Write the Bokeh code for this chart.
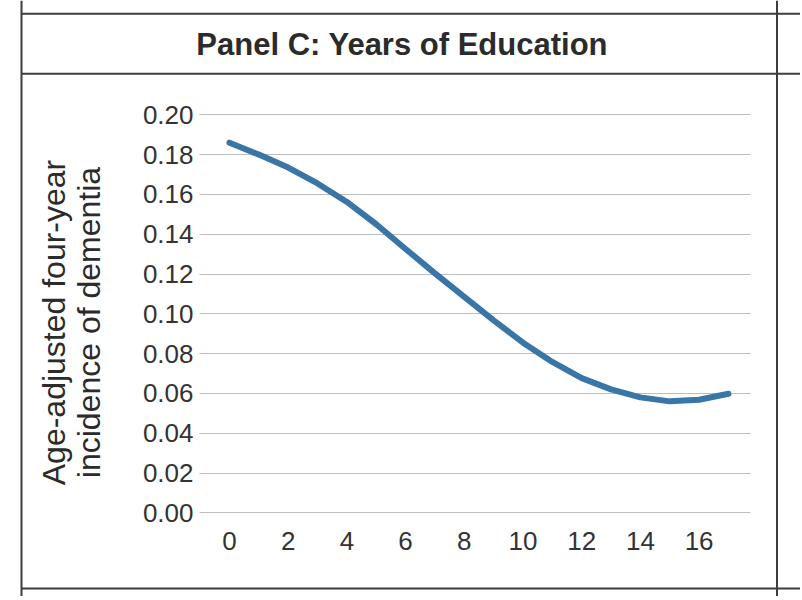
import math
from bokeh.plotting import figure
from bokeh.models import (Range1d, LinearAxis, Grid, FixedTicker,
                          PrintfTickFormatter, Label, Span)
from bokeh.embed import file_html
from bokeh.resources import INLINE

# ---------------- data ----------------
years = [0, 1, 2, 3, 4, 5, 6, 7, 8, 9, 10, 11, 12, 13, 14, 15, 16, 17]
incidence = [0.1860, 0.1800, 0.1735, 0.1655, 0.1562, 0.1450, 0.1326, 0.1203,
             0.1085, 0.0967, 0.0855, 0.0758, 0.0677, 0.0620, 0.0580, 0.0560,
             0.0568, 0.0598]
x_ticks = [0, 2, 4, 6, 8, 10, 12, 14, 16]
y_ticks = [0.00, 0.02, 0.04, 0.06, 0.08, 0.10, 0.12, 0.14, 0.16, 0.18, 0.20]
title_text = "Panel C: Years of Education"
y_title_lines = ["Age-adjusted four-year", "incidence of dementia"]

# ---------------- layout (page pixels -> data) ----------------
W, H = 800, 596
OFF = 0
PX0, PXU = 229.0, 29.35      # page x of year 0, pixels per year
PY0, PYU = 512.3, 1990.0     # page y of 0.00, pixels per unit


def dx(px):
    return (px - PX0) / PXU


def dy(py):
    return (PY0 - py) / PYU


TEXT = "#333333"
FONT = "Liberation Sans"

p = figure(width=W, height=H, output_backend="svg", toolbar_location=None,
           x_range=Range1d(dx(OFF), dx(OFF + W)),
           y_range=Range1d(dy(OFF + H), dy(OFF)),
           x_axis_location=None, y_axis_location=None, min_border=0)
p.outline_line_color = None
p.background_fill_color = "white"
p.border_fill_color = "white"
for g in p.grid:
    g.visible = False

# y axis (labels only)
yaxis = LinearAxis(fixed_location=dx(199), ticker=FixedTicker(ticks=y_ticks),
                   formatter=PrintfTickFormatter(format="%.2f"))
yaxis.axis_line_color = None
yaxis.major_tick_line_color = None
yaxis.minor_tick_line_color = None
yaxis.major_tick_out = 0
yaxis.major_tick_in = 0
yaxis.major_label_standoff = 6
yaxis.major_label_text_font = FONT
yaxis.major_label_text_font_size = "26px"
yaxis.major_label_text_color = TEXT
p.add_layout(yaxis, "left")

# x axis (labels only)
xaxis = LinearAxis(fixed_location=0, ticker=FixedTicker(ticks=x_ticks))
xaxis.axis_line_color = None
xaxis.major_tick_line_color = None
xaxis.minor_tick_line_color = None
xaxis.major_tick_out = 0
xaxis.major_tick_in = 0
xaxis.major_label_standoff = 19
xaxis.major_label_text_font = FONT
xaxis.major_label_text_font_size = "26px"
xaxis.major_label_text_color = TEXT
p.add_layout(xaxis, "below")

# horizontal gridlines
try:
    grid = Grid(dimension=1, ticker=yaxis.ticker, cross_bounds=(dx(199), dx(750)),
                grid_line_color="#bdbdbd", grid_line_width=1)
    p.add_layout(grid)
except AttributeError:
    p.segment(x0=[dx(199)] * len(y_ticks), x1=[dx(750)] * len(y_ticks),
              y0=y_ticks, y1=y_ticks, line_color="#bdbdbd", line_width=1)

# curve
p.line(years, incidence, line_width=6, line_color="#3a75a8",
       line_cap="round", line_join="round")

# table frame lines
BORDER = "#3d3d3d"
for xv in (dx(21), dx(776.5)):
    p.add_layout(Span(location=xv, dimension="height", line_color=BORDER, line_width=2))
hy = [dy(13.3), dy(73.3), dy(588)]
p.segment(x0=[dx(21)] * 3, x1=[dx(810)] * 3, y0=hy, y1=hy,
          line_color=BORDER, line_width=2)

# title
p.add_layout(Label(x=dx(401.7), y=dy(44), text=title_text,
                   text_align="center", text_baseline="alphabetic",
                   text_font=FONT, text_font_style="bold",
                   text_font_size="31px", text_color="#2b2b2b"))

# y axis title (two lines, rotated)
for txt, bx in zip(y_title_lines, (53, 88)):
    p.add_layout(Label(x=dx(bx), y=dy(322), text=txt, angle=math.pi / 2,
                       text_align="center", text_baseline="alphabetic",
                       text_font=FONT, text_font_size="32px",
                       text_color="#2b2b2b"))

open("out.html", "w").write(file_html(p, INLINE))
